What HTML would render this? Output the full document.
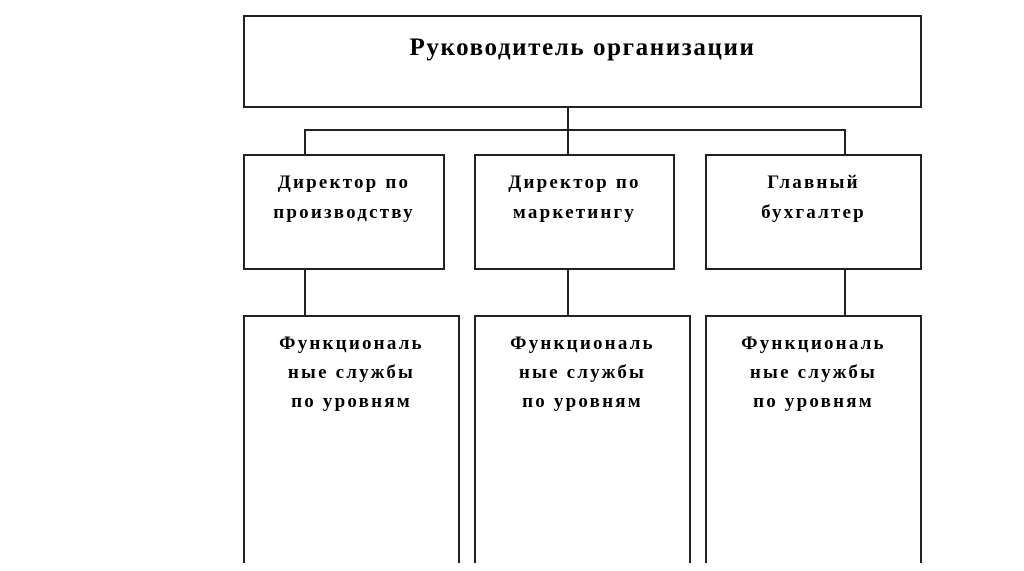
<!DOCTYPE html>
<html><head><meta charset="utf-8"><style>
body{margin:0;width:1024px;height:571px;background:#fff;position:relative;overflow:hidden;font-family:"Liberation Serif","Noto Serif CJK SC",serif;}
.b{position:absolute;border:2px solid #222;box-sizing:border-box;text-align:center;color:#000;white-space:nowrap;}
.l{position:absolute;background:#222;}
.m{font-weight:bold;font-size:19px;line-height:30px;padding-top:12px;letter-spacing:2.2px;}
.f{font-weight:bold;font-size:19px;line-height:29px;padding-top:12px;border-bottom:none;letter-spacing:2.2px;}
</style></head><body>
<div class="b" style="left:243px;top:15px;width:679px;height:93px;font-size:25px;font-weight:bold;letter-spacing:1.6px;padding-top:17px;">Руководитель организации</div>
<div class="l" style="left:567px;top:107px;width:2px;height:24px"></div>
<div class="l" style="left:304px;top:129px;width:542px;height:2px"></div>
<div class="l" style="left:304px;top:129px;width:2px;height:26px"></div>
<div class="l" style="left:567px;top:129px;width:2px;height:26px"></div>
<div class="l" style="left:844px;top:129px;width:2px;height:26px"></div>
<div class="b m" style="left:243px;top:154px;width:202px;height:116px">Директор по<br>производству</div>
<div class="b m" style="left:474px;top:154px;width:201px;height:116px">Директор по<br>маркетингу</div>
<div class="b m" style="left:705px;top:154px;width:217px;height:116px">Главный<br>бухгалтер</div>
<div class="l" style="left:304px;top:269px;width:2px;height:47px"></div>
<div class="l" style="left:567px;top:269px;width:2px;height:47px"></div>
<div class="l" style="left:844px;top:269px;width:2px;height:47px"></div>
<div class="b f" style="left:243px;top:315px;width:217px;height:248px">Функциональ<br>ные службы<br>по уровням</div>
<div class="b f" style="left:474px;top:315px;width:217px;height:248px">Функциональ<br>ные службы<br>по уровням</div>
<div class="b f" style="left:705px;top:315px;width:217px;height:248px">Функциональ<br>ные службы<br>по уровням</div>
</body></html>
